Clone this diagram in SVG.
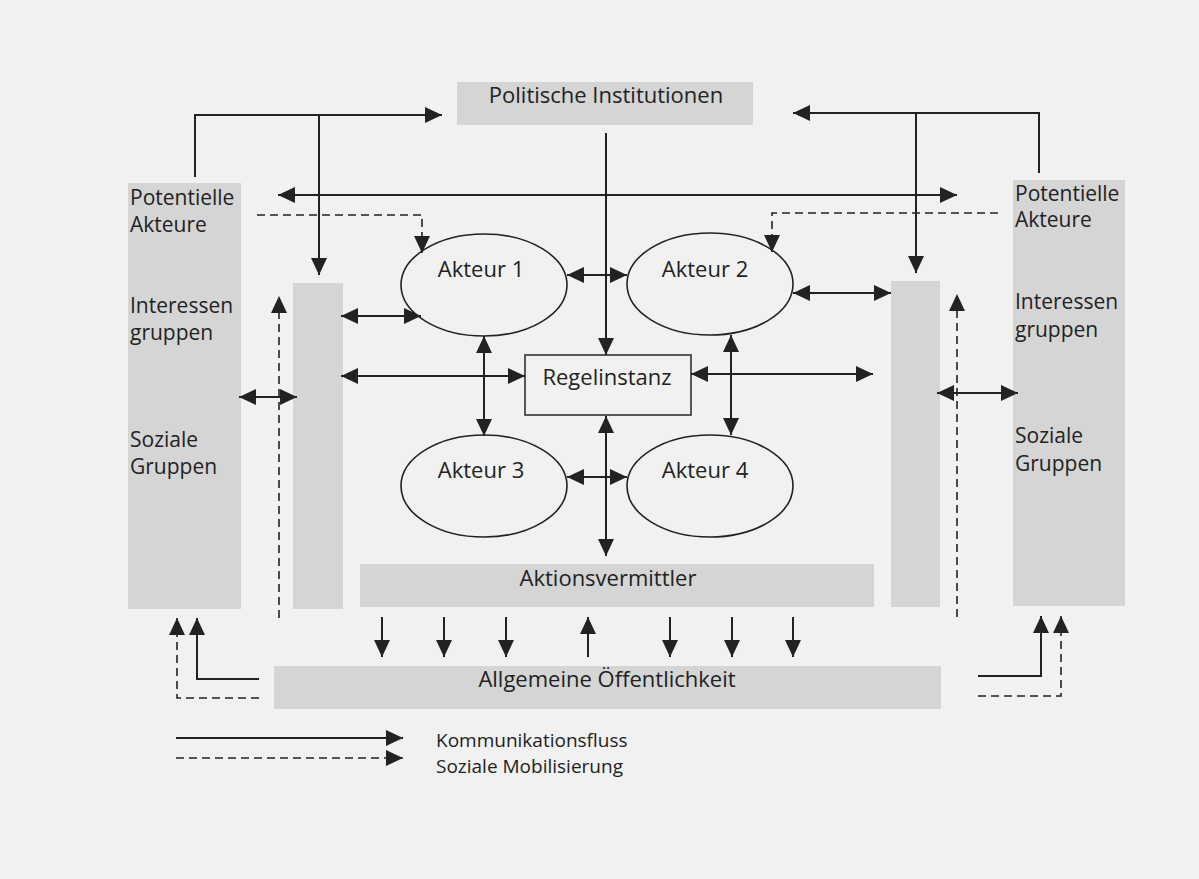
<svg xmlns="http://www.w3.org/2000/svg" width="1199" height="879" viewBox="0 0 1199 879">
<style>
text{font-family:"Open Sans","Noto Sans","Liberation Sans",sans-serif;fill:#222}
.lbl{font-size:22px;text-anchor:middle}
.side{font-size:21px}
.leg{font-size:19px}
.box{fill:#d5d5d5}
.ell{fill:none;stroke:#222;stroke-width:1.6}
.c{fill:none;stroke:#222;stroke-width:2}
.d{fill:none;stroke:#222;stroke-width:1.6;stroke-dasharray:8 5}
.a{marker-end:url(#ah)}
.b{marker-start:url(#ah);marker-end:url(#ah)}
</style>
<defs>
<marker id="ah" markerUnits="userSpaceOnUse" markerWidth="18" markerHeight="18" viewBox="0 0 18 16" refX="17" refY="8" orient="auto-start-reverse">
<path d="M0,0 L17,8 L0,16 Z" fill="#222"/>
</marker>
</defs>
<rect x="0" y="0" width="1199" height="879" fill="#f1f1f1"/>

<g id="politische-institutionen">
<rect class="box" x="457" y="82" width="296" height="43"/>
<text class="lbl" x="606" y="103">Politische Institutionen</text>
</g>

<g id="linke-gruppen">
<rect class="box" x="128" y="183" width="113" height="426"/>
<text class="side" x="130" y="205">Potentielle</text>
<text class="side" x="130" y="232">Akteure</text>
<text class="side" x="130" y="313">Interessen</text>
<text class="side" x="130" y="340">gruppen</text>
<text class="side" x="130" y="447">Soziale</text>
<text class="side" x="130" y="474">Gruppen</text>
</g>

<g id="linke-saeule">
<rect class="box" x="293" y="283" width="50" height="326"/>
</g>

<g id="rechte-saeule">
<rect class="box" x="891" y="281" width="49" height="326"/>
</g>

<g id="rechte-gruppen">
<rect class="box" x="1013" y="180" width="112" height="426"/>
<text class="side" x="1015" y="201">Potentielle</text>
<text class="side" x="1015" y="227">Akteure</text>
<text class="side" x="1015" y="309">Interessen</text>
<text class="side" x="1015" y="337">gruppen</text>
<text class="side" x="1015" y="443">Soziale</text>
<text class="side" x="1015" y="471">Gruppen</text>
</g>

<g id="akteur-1">
<ellipse class="ell" cx="484" cy="285" rx="83" ry="51"/>
<text class="lbl" x="481" y="277">Akteur 1</text>
</g>
<g id="akteur-2">
<ellipse class="ell" cx="710" cy="284" rx="83" ry="51"/>
<text class="lbl" x="705" y="277">Akteur 2</text>
</g>
<g id="akteur-3">
<ellipse class="ell" cx="484" cy="486" rx="83" ry="51"/>
<text class="lbl" x="481" y="478">Akteur 3</text>
</g>
<g id="akteur-4">
<ellipse class="ell" cx="710" cy="486" rx="83" ry="51"/>
<text class="lbl" x="705" y="478">Akteur 4</text>
</g>

<g id="regelinstanz">
<rect x="525" y="355" width="166" height="60" fill="none" stroke="#333" stroke-width="1.6"/>
<text class="lbl" x="607" y="385">Regelinstanz</text>
</g>

<g id="aktionsvermittler">
<rect class="box" x="360" y="564" width="514" height="43"/>
<text class="lbl" x="608" y="586">Aktionsvermittler</text>
</g>

<g id="allgemeine-oeffentlichkeit">
<rect class="box" x="274" y="666" width="667" height="43"/>
<text class="lbl" x="607" y="687">Allgemeine Öffentlichkeit</text>
</g>

<g id="connectors">
<path class="c a" d="M195,177 V115 H442"/>
<path class="c a" d="M319,115 V275"/>
<path class="c a" d="M1039,173 V113 H793"/>
<path class="c a" d="M916,113 V273"/>
<path class="c b" d="M278,195 H957"/>
<path class="d a" d="M257,215 H422 V253"/>
<path class="d a" d="M998,213 H772 V252"/>
<path class="c a" d="M606,133 V355"/>
<path class="c b" d="M567,275 H627"/>
<path class="c b" d="M567,477 H627"/>
<path class="c b" d="M341,316 H421"/>
<path class="c b" d="M793,293 H891"/>
<path class="c b" d="M341,376 H525"/>
<path class="c b" d="M691,374 H873"/>
<path class="c b" d="M484,336 V436"/>
<path class="c b" d="M731,335 V435"/>
<path class="c b" d="M606,416 V556"/>
<path class="c b" d="M239,397 H297"/>
<path class="c b" d="M937,393 H1018"/>
<path class="d a" d="M279,618 V296"/>
<path class="d a" d="M957,617 V294"/>
<path class="c a" d="M382,617 V657"/>
<path class="c a" d="M444,617 V657"/>
<path class="c a" d="M506,617 V657"/>
<path class="c a" d="M588,657 V617"/>
<path class="c a" d="M670,617 V657"/>
<path class="c a" d="M732,617 V657"/>
<path class="c a" d="M793,617 V657"/>
<path class="c a" d="M259,679 H197 V618"/>
<path class="d a" d="M259,698 H177 V618"/>
<path class="c a" d="M978,676 H1041 V616"/>
<path class="d a" d="M978,696 H1061 V616"/>
<path class="c a" d="M176,738 H403"/>
<path class="d a" d="M176,758 H403"/>
</g>

<g id="legende">
<text class="leg" x="436" y="747">Kommunikationsfluss</text>
<text class="leg" x="436" y="773">Soziale Mobilisierung</text>
</g>
</svg>
